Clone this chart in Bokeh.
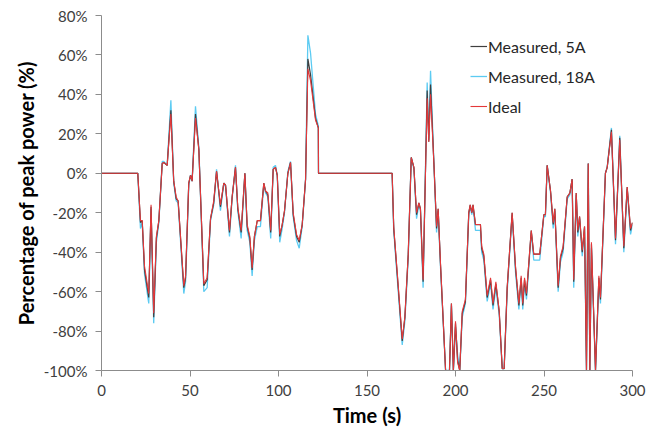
from bokeh.plotting import figure
from bokeh.models import Range1d, FixedTicker, PrintfTickFormatter, Legend, LegendItem, ColumnDataSource
from bokeh.embed import file_html
from bokeh.resources import INLINE

# ---- data ----
time_s = [0, 20.5, 22, 23, 24.3, 26.7, 28, 29.5, 31, 32.4, 34.3, 35.2, 37.1, 39.2, 40.8, 42.2, 43.3,
          46.5, 47.5, 49.3, 50.3, 51.2, 53.1, 55, 57.8, 59.7, 61.6, 63.4, 65, 67.2, 69.1, 70.1, 72.3,
          73.8, 75.7, 77, 78.9, 81, 82.3, 83.8, 85.1, 86.4, 88, 89.8, 91.7, 92.7, 94, 95.6, 97, 98.3,
          99.3, 100.7, 102.1, 103.4, 105.3, 106.8, 108.3, 110.2, 111.7, 113.4, 115.3, 116.6, 118.1,
          120.9, 122.5, 122.6, 164.2,
          165.1, 167.4, 169.9, 171.4, 173.3, 175, 176.5, 178, 179.3, 180.2, 181.7, 184, 184.9, 185.9,
          187.8, 189.3, 190.2, 191.5, 194.4, 196.6, 197.7, 198.8, 200, 201.2, 202.4, 203.8, 205.6,
          207.5, 208.3, 209.2, 209.9, 211.3, 214.1, 214.8, 216, 217.9, 219.8, 221.2, 222.8, 224.7,
          226.4, 227.5, 229.2, 232, 233.9, 235.8, 237.1, 238, 239, 240.1, 242.8, 244.2, 247.6, 249.9,
          250.8, 251.8, 253.7, 255.2, 256.1, 258, 259.3, 260.8, 263.1, 264.6, 265.9, 266.8, 268.2,
          269.1, 270.1, 271.6, 272.9, 274, 275, 275.9, 276.8, 279.1, 281, 281.9, 284.7, 285.7, 288.1,
          290.4, 292.8, 295.1, 297, 298.9, 300]

ideal = [0, 0, -24, -24, -47, -61, -16, -71, -32, -24, 5, 5.5, 4, 30, -4, -12, -14,
         -57, -52, -5, -1, -4, 28, 12, -56, -53, -23, -14, 1, -16, -5, -6, -29,
         -12, 3, -17, -29, 0, -26, -32, -48, -32, -24, -24, -5, -9, -10, -29, 2, 3,
         -1, -31, -26, -19, 0, 5.5, -20, -31, -34, -26, -3, 53, 47,
         27, 23, 0, 0,
         -27, -54, -84, -73, -41, 8, 3, -20, -15, -18, -54, 38, 16, 40,
         5, -27, -18, -45, -100, -100, -66, -100, -75, -96, -100, -70, -64,
         -20, -16, -20, -16, -26, -26, -37, -41, -62, -53, -66, -55, -70,
         -99, -99, -58, -20, -47, -66, -52, -66, -53, -61, -29, -41, -41, -21,
         -21, 4, -9, -25, -18, -57, -42, -37, -12, -10, -3, -54, -10,
         -29, -22, -39, -27, -100, 5, -100, -35, -100, -52, -63, 0, 3, 21,
         -33, 17, -37, -7, -28, -25]

measured_5a = [0, 0, -25, -24, -49, -63, -17, -73, -33, -24, 5, 5.5, 4, 32, -4, -13, -14,
               -58, -53, -5, -1, -4, 30, 12, -57, -54, -23, -15, 1, -17, -5, -6, -30,
               -12, 3, -18, -30, 0, -27, -33, -49, -32, -24, -24, -5, -9, -11, -30, 2, 3,
               -1, -32, -26, -19, 0, 5.5, -21, -32, -35, -26, -3, 58, 50,
               28, 23, 0, 0,
               -28, -55, -85, -73, -41, 8, 3, -21, -15, -18, -55, 42, 16, 45,
               5, -28, -18, -46, -100, -100, -66, -100, -76, -95, -100, -71, -65,
               -20, -16, -20, -16, -26, -26, -38, -42, -63, -54, -67, -56, -70,
               -99, -99, -58, -20, -48, -67, -53, -67, -54, -62, -29, -41, -41, -21,
               -21, 4, -9, -26, -18, -58, -43, -38, -12, -10, -3, -55, -10,
               -30, -22, -40, -27, -100, 5, -100, -36, -100, -53, -64, 0, 3, 22,
               -34, 18, -38, -7, -29, -25]

measured_18a = [0, 0, -28, -25, -51, -66, -18, -76, -35, -25, 6, 6, 4, 37, -5, -14, -15,
                -61, -55, -6, -1, -4, 34, 13, -60, -58, -24, -16, 2, -19, -5, -7, -32,
                -13, 4, -19, -33, 0, -29, -35, -52, -34, -27, -27, -6, -10, -12, -33, 3, 4,
                -1, -35, -28, -20, 1, 6, -22, -34, -38, -27, -3, 70, 61,
                30, 24, 0, 0,
                -29, -57, -87, -75, -43, 8, 2, -23, -16, -19, -58, 46, 17, 52,
                5, -30, -19, -47, -100, -100, -67, -100, -78, -92, -100, -73, -66,
                -21, -17, -21, -17, -29, -29, -40, -44, -65, -56, -69, -58, -72,
                -99, -99, -60, -21, -50, -69, -55, -69, -56, -64, -30, -44, -44, -22,
                -22, 4, -10, -28, -19, -60, -45, -40, -13, -11, -3, -58, -11,
                -32, -23, -42, -28, -100, 5, -100, -38, -100, -55, -66, 0, 3, 23,
                -36, 19, -40, -8, -31, -26]

x_ticks = [0, 50, 100, 150, 200, 250, 300]
y_ticks = [-100, -80, -60, -40, -20, 0, 20, 40, 60, 80]

src = ColumnDataSource(dict(t=time_s, ideal=ideal, m5=measured_5a, m18=measured_18a))

FONT = "Lato"

p = figure(width=662, height=430, output_backend="svg", toolbar_location=None,
           x_range=Range1d(0, 300), y_range=Range1d(-100, 80),
           min_border_left=101, min_border_right=30, min_border_top=15, min_border_bottom=60)

p.background_fill_color = "white"
p.border_fill_color = "white"
p.outline_line_color = None
p.xgrid.visible = False
p.ygrid.visible = False

r18 = p.line("t", "m18", source=src, line_color="#5CCBF2", line_width=1.3)
r5 = p.line("t", "m5", source=src, line_color="#3F3F3F", line_width=1.2)
ri = p.line("t", "ideal", source=src, line_color="#E4383A", line_width=1.1)

for ax in (p.xaxis[0], p.yaxis[0]):
    ax.axis_line_color = "#8C8C8C"
    ax.axis_line_width = 1
    ax.major_tick_line_color = "#8C8C8C"
    ax.major_tick_in = 0
    ax.major_tick_out = 6
    ax.minor_tick_line_color = None
    ax.major_label_text_font = FONT
    ax.major_label_text_font_size = "15px"
    ax.major_label_text_color = "#404040"
    ax.axis_label_text_font = FONT
    ax.axis_label_text_font_size = "20px"
    ax.axis_label_text_font_style = "bold"
    ax.axis_label_text_color = "#000000"

p.xaxis.ticker = FixedTicker(ticks=x_ticks)
p.yaxis.ticker = FixedTicker(ticks=y_ticks)
p.yaxis.formatter = PrintfTickFormatter(format="%d%%")
p.xaxis.axis_label = "Time (s)"
p.yaxis.axis_label = "Percentage of peak power (%)"
p.xaxis.major_label_standoff = 8
p.yaxis.major_label_standoff = 8
p.xaxis.axis_label_standoff = 4
p.yaxis.axis_label_standoff = 3

legend = Legend(items=[LegendItem(label="Measured, 5A", renderers=[r5]),
                       LegendItem(label="Measured, 18A", renderers=[r18]),
                       LegendItem(label="Ideal", renderers=[ri])],
                location=(369, 254))
legend.background_fill_alpha = 0
legend.border_line_color = None
legend.padding = 0
legend.margin = 0
legend.spacing = 10
legend.label_height = 20
legend.glyph_height = 20
legend.glyph_width = 17
legend.label_standoff = 1
legend.label_text_font = FONT
legend.label_text_font_size = "16px"
legend.label_text_color = "#262626"
p.add_layout(legend)

open("out.html", "w").write(file_html(p, INLINE))
